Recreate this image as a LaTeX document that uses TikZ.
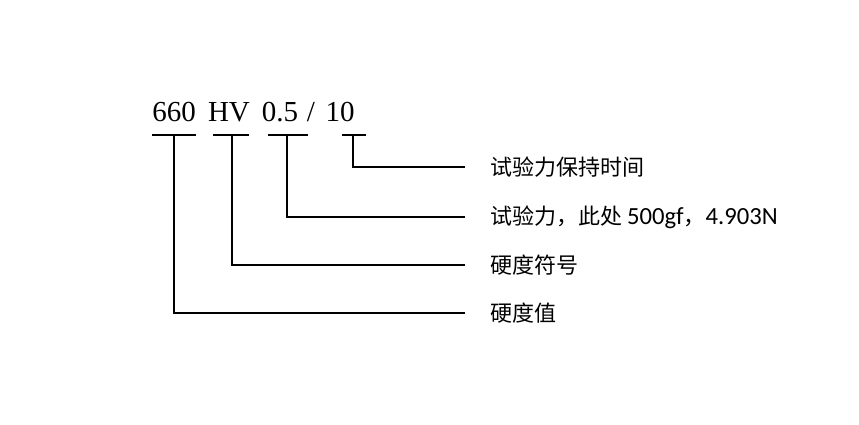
\documentclass[tikz,border=0pt]{standalone}
\usepackage{fontspec}
\setmainfont{Liberation Serif}
\newfontfamily\cjk{Noto Sans CJK SC}
\newfontfamily\latin[Scale=1.12]{Carlito}
\usetikzlibrary{positioning}

\begin{document}
\begin{tikzpicture}[x=1pt, y=-1pt,
			part/.style={font=\fontsize{29}{30}\selectfont, anchor=base, inner sep=0pt},
			label/.style={font=\cjk\fontsize{22}{24}\selectfont, anchor=west, inner sep=0pt},
			bar/.style={line width=1.6pt},
			lead/.style={line width=1.3pt}
		]
			\useasboundingbox (0,0) rectangle (859,425);

			% designation
			\node (n660) [part] at (174,122) {660};
			\node (nHV) [part] at (229,122) {HV};
			\node (n05) [part] at (280,122) {0.5};
			\node (nslash) [part] at (311,122) {/};
			\node (n10) [part] at (340,122) {10};

			% meanings
			\node (lTime) [label] at (490,167) {试验力保持时间};
			\node (lForce) [label] at (490,217) {试验力，此处 {\latin 500gf}，{\latin 4.903N}};
			\node (lSymbol) [label] at (490,265) {硬度符号};
			\node (lValue) [label] at (490,313) {硬度值};

			% bars under the parts
			\coordinate (b1l) at (152,135); \coordinate (b1r) at (196,135); \coordinate (b1m) at (174,135);
			\coordinate (b2l) at (213,135); \coordinate (b2r) at (249,135); \coordinate (b2m) at (232,135);
			\coordinate (b3l) at (268,135); \coordinate (b3r) at (308,135); \coordinate (b3m) at (287,135);
			\coordinate (b4l) at (342,135); \coordinate (b4r) at (366,135); \coordinate (b4m) at (353,135);

			\draw[bar] (b1l) -- (b1r);
			\draw[bar] (b2l) -- (b2r);
			\draw[bar] (b3l) -- (b3r);
			\draw[bar] (b4l) -- (b4r);

			\draw[lead] (b4m) |- ([xshift=-25pt]lTime.west);
			\draw[lead] (b3m) |- ([xshift=-25pt]lForce.west);
			\draw[lead] (b2m) |- ([xshift=-25pt]lSymbol.west);
			\draw[lead] (b1m) |- ([xshift=-25pt]lValue.west);
		\end{tikzpicture}
\end{document}
